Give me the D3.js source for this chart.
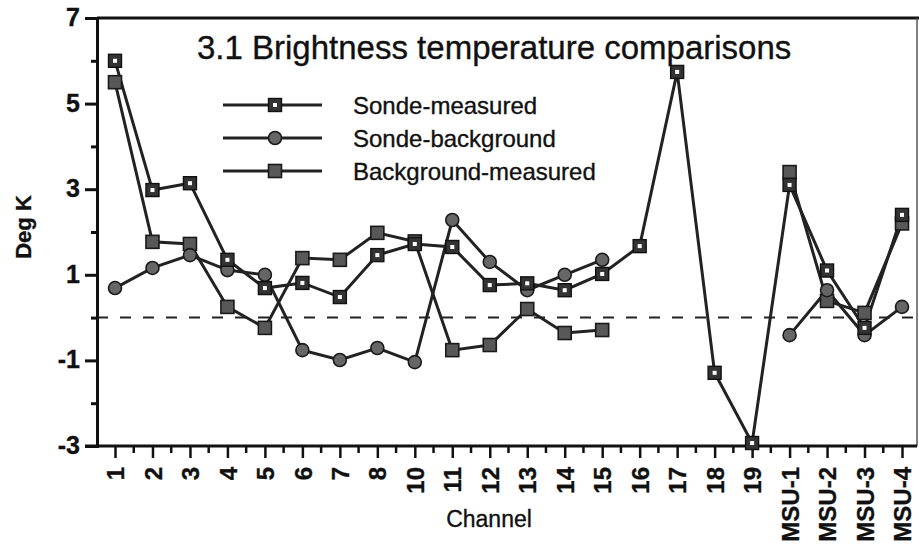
<!DOCTYPE html>
<html>
<head>
<meta charset="utf-8">
<script src="https://cdn.jsdelivr.net/npm/d3@7"></script>
<style>
  body { margin: 0; background: #fff; }
  text { font-family: "Liberation Sans", Arial, Helvetica, sans-serif; fill: #111; stroke: #111; stroke-width: 0.35px; }
</style>
</head>
<body>
<div class="Chart"></div>
<script>
// channels on the x axis (no channel 9)
var channels = ["1","2","3","4","5","6","7","8","10","11","12","13","14","15","16","17","18","19","MSU-1","MSU-2","MSU-3","MSU-4"];

// deg K; null = no value
var sondeMeasured      = [6.0, 2.98, 3.14, 1.35, 0.69, 0.81, 0.48, 1.46, 1.72, 1.65, 0.76, 0.80, 0.64, 1.02, 1.67, 5.74, -1.29, -2.93, 3.10, 1.10, -0.24, 2.40];
var sondeBackground    = [0.69, 1.16, 1.46, 1.11, 1.00, -0.76, -0.99, -0.71, -1.04, 2.28, 1.30, 0.64, 1.00, 1.35, null, null, null, null, -0.41, 0.64, -0.41, 0.25];
var backgroundMeasured = [5.50, 1.77, 1.72, 0.25, -0.24, 1.39, 1.35, 1.98, 1.78, -0.76, -0.64, 0.20, -0.36, -0.29, null, null, null, null, 3.40, 0.39, 0.11, 2.20];

var seriesNames = ["Sonde-measured", "Sonde-background", "Background-measured"];
var markerKinds = ["openSquare", "circle", "square"];

var yMajorTicks = [-3, -1, 1, 3, 5, 7];
var yMinorTicks = [-2, 0, 2, 4, 6];

var titleText = "3.1 Brightness temperature comparisons";
var xTitle = "Channel";
var yTitle = "Deg K";

// ----- setup -----
var width = 919;
var height = 556;
// plot frame (window.top is read only, so own names here)
var plotLeft = 97, plotRight = 917, plotTop = 18, plotBottom = 446;

var svg = d3.select(".Chart")
            .append("svg")
            .attr("width", width)
            .attr("height", height);

var x = d3.scalePoint()
          .domain(channels)
          .range([115, 902]);

var y = d3.scaleLinear()
          .domain([-3, 7])
          .range([plotBottom, plotTop]);

// zero line (dashed)
svg.append("line")
   .attr("x1", plotLeft).attr("x2", plotRight)
   .attr("y1", y(0)).attr("y2", y(0))
   .attr("stroke", "#222")
   .attr("stroke-width", 2)
   .attr("stroke-dasharray", "11,12");

// frame: top + right
svg.append("line")
   .attr("x1", plotLeft).attr("x2", width)
   .attr("y1", plotTop).attr("y2", plotTop)
   .attr("stroke", "#111").attr("stroke-width", 3);
svg.append("line")
   .attr("x1", plotRight).attr("x2", plotRight)
   .attr("y1", plotTop).attr("y2", plotBottom)
   .attr("stroke", "#555").attr("stroke-width", 1.5);

// ----- axes -----
var yAxis = svg.append("g")
               .attr("transform", "translate(" + plotLeft + ",0)")
               .call(d3.axisLeft(y).tickValues(yMajorTicks).tickSize(12).tickPadding(5)
                       .tickFormat(function(d){ return String(d); }));
svg.append("g")
   .attr("transform", "translate(" + plotLeft + ",0)")
   .call(d3.axisLeft(y).tickValues(yMinorTicks).tickSize(6).tickFormat(""))
   .call(function(g){ g.select(".domain").remove(); })
   .selectAll(".tick line").attr("stroke", "#111").attr("stroke-width", 3);

yAxis.select(".domain").attr("stroke", "#111").attr("stroke-width", 3);
yAxis.selectAll(".tick line").attr("stroke", "#111").attr("stroke-width", 3);
yAxis.selectAll(".tick text")
     .attr("font-size", 25)
     .attr("font-weight", "bold")
     .attr("fill", "#111")
     .attr("dy", "0.3em");

var xAxis = svg.append("g")
               .attr("transform", "translate(0," + plotBottom + ")")
               .call(d3.axisBottom(x).tickSize(12).tickSizeOuter(0));

xAxis.select(".domain").remove();
xAxis.append("line")
     .attr("x1", 85).attr("x2", plotRight)
     .attr("stroke", "#111").attr("stroke-width", 3);
xAxis.selectAll(".tick line").attr("stroke", "#111").attr("stroke-width", 2.5);
xAxis.selectAll(".tick text")
     .attr("font-size", 24)
     .attr("font-weight", "bold")
     .attr("fill", "#111")
     .attr("text-anchor", "end")
     .attr("transform", "rotate(-90)")
     .attr("x", -21)
     .attr("y", 0)
     .attr("dy", "0.36em");

// minor x ticks half way between channels
var mids = [];
for (var i = 0; i < channels.length - 1; i++) {
  mids.push((x(channels[i]) + x(channels[i + 1])) / 2);
}
mids.push(x(channels[channels.length - 1]) + x.step() / 2);
svg.append("g")
   .selectAll("line")
   .data(mids)
   .enter().append("line")
   .attr("x1", function(d){ return d; })
   .attr("x2", function(d){ return d; })
   .attr("y1", plotBottom)
   .attr("y2", plotBottom + 7)
   .attr("stroke", "#111")
   .attr("stroke-width", 2.5);

// axis titles
svg.append("text")
   .attr("x", 489)
   .attr("y", 527)
   .attr("text-anchor", "middle")
   .attr("font-size", 23)
   .text(xTitle);

svg.append("text")
   .attr("transform", "translate(31,227) rotate(-90)")
   .attr("text-anchor", "middle")
   .attr("font-size", 22)
   .attr("font-weight", "bold")
   .text(yTitle);

// title
svg.append("text")
   .attr("x", 197)
   .attr("y", 59)
   .attr("font-size", 33)
   .text(titleText);

// ----- series -----
var allSeries = [sondeMeasured, sondeBackground, backgroundMeasured];

var line = d3.line()
             .defined(function(d){ return d != null; })
             .x(function(d, i){ return x(channels[i]); })
             .y(function(d){ return y(d); });

svg.append("g")
   .selectAll("path")
   .data(allSeries)
   .enter().append("path")
   .attr("d", line)
   .attr("fill", "none")
   .attr("stroke", "#222")
   .attr("stroke-width", 3);

function drawMarker(g, kind) {
  if (kind == "circle") {
    g.append("circle").attr("r", 6.5)
     .attr("fill", "#666").attr("stroke", "#1a1a1a").attr("stroke-width", 1.6);
  } else if (kind == "openSquare") {
    g.append("rect").attr("x", -6.5).attr("y", -6.5).attr("width", 13).attr("height", 13)
     .attr("fill", "#333").attr("stroke", "#111").attr("stroke-width", 1.4);
    g.append("rect").attr("x", -2).attr("y", -2).attr("width", 4).attr("height", 4)
     .attr("fill", "#fff");
  } else {
    g.append("rect").attr("x", -6.5).attr("y", -6.5).attr("width", 13).attr("height", 13)
     .attr("fill", "#585858").attr("stroke", "#1a1a1a").attr("stroke-width", 1.6);
  }
}

// markers (draw filled series first so open squares stay visible)
[2, 1, 0].forEach(function(s) {
  var pts = [];
  allSeries[s].forEach(function(v, i){ if (v != null) pts.push({c: channels[i], v: v}); });
  svg.append("g")
     .selectAll("g")
     .data(pts)
     .enter().append("g")
     .attr("transform", function(d){ return "translate(" + x(d.c) + "," + y(d.v) + ")"; })
     .each(function(){ drawMarker(d3.select(this), markerKinds[s]); });
});

// ----- legend -----
var legend = svg.selectAll("g.legend")
                .data(seriesNames)
                .enter().append("g")
                .attr("class", "legend")
                .attr("transform", function(d, i){ return "translate(0," + (105 + i * 33) + ")"; });

legend.append("line")
      .attr("x1", 223).attr("x2", 322)
      .attr("stroke", "#222").attr("stroke-width", 3);

legend.append("g")
      .attr("transform", "translate(275,0)")
      .each(function(d, i){ drawMarker(d3.select(this), markerKinds[i]); });

legend.append("text")
      .attr("x", 353)
      .attr("y", 9)
      .attr("font-size", 24)
      .text(function(d){ return d; });
</script>
</body>
</html>
